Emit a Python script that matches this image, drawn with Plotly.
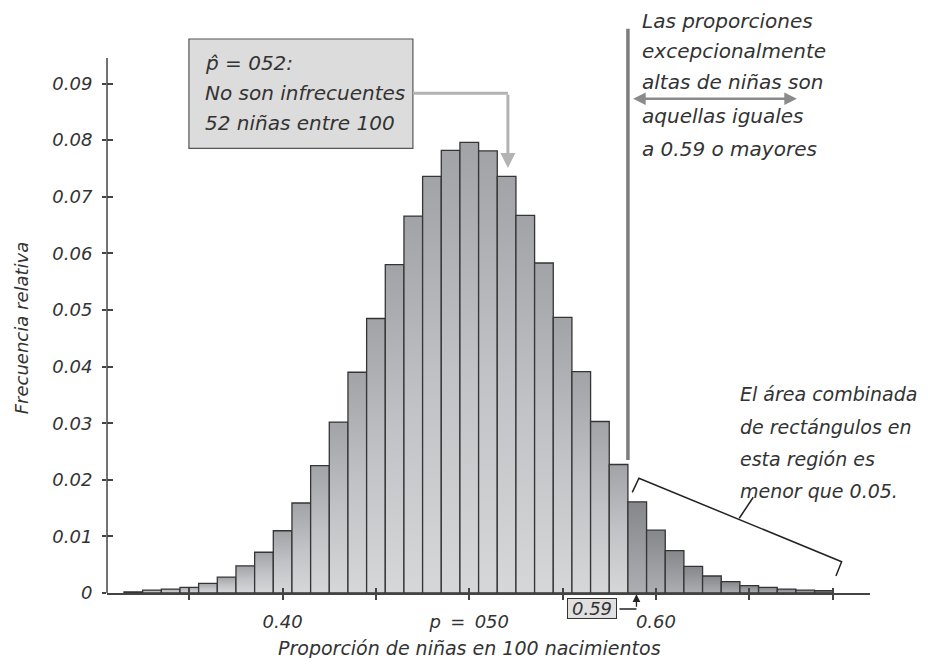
import plotly.graph_objects as go

# sample proportion of girls in 100 births (bar centres) and relative frequency
PROPORTIONS = [
    0.32, 0.33, 0.34, 0.35, 0.36, 0.37, 0.38, 0.39, 0.40, 0.41,
    0.42, 0.43, 0.44, 0.45, 0.46, 0.47, 0.48, 0.49, 0.50, 0.51,
    0.52, 0.53, 0.54, 0.55, 0.56, 0.57, 0.58, 0.59, 0.60, 0.61,
    0.62, 0.63, 0.64, 0.65, 0.66, 0.67, 0.68, 0.69,
]
FREQUENCIES = [
    0.0002, 0.0005, 0.0007, 0.0010, 0.0017, 0.0028, 0.0048, 0.0072, 0.0110, 0.0159,
    0.0225, 0.0302, 0.0390, 0.0485, 0.0580, 0.0666, 0.0736, 0.0782, 0.0796, 0.0781,
    0.0736, 0.0667, 0.0583, 0.0487, 0.0391, 0.0303, 0.0227, 0.0161, 0.0111, 0.0075,
    0.0047, 0.0030, 0.0020, 0.0013, 0.0010, 0.0007, 0.0005, 0.0004,
]
CUTOFF = 0.59
BIN_WIDTH = 0.01

X_TICKS = [0.35, 0.40, 0.45, 0.50, 0.55, 0.60, 0.65, 0.695]
X_TICK_TEXT = ["", "0.40", "", "p\u2009 = \u2009050", "", "0.60", "", ""]
Y_TICKS = [0, 0.01, 0.02, 0.03, 0.04, 0.05, 0.06, 0.07, 0.08, 0.09]
Y_TICK_TEXT = ["0", "0.01", "0.02", "0.03", "0.04", "0.05", "0.06", "0.07", "0.08", "0.09"]

X_RANGE = [0.3059, 0.7147]
Y_RANGE = [0, 0.103]

FONT = "'DejaVu Sans', 'Noto Sans', sans-serif"
INK = "#333333"
AXIS = "#444444"
LIGHT_SCALE = [[0, "#d6d7d9"], [0.5, "#c0c2c5"], [1, "#a1a3a7"]]
DARK_SCALE = [[0, "#acaeb1"], [1, "#85878b"]]


def text_font(size):
    return dict(family=FONT, size=size, color=INK, style="italic", weight=200)


def paper_y(value):
    # data y -> paper fraction, for marks that sit below the x axis
    return (value - Y_RANGE[0]) / (Y_RANGE[1] - Y_RANGE[0])


fig = go.Figure()

half = BIN_WIDTH / 2
for centre, freq in zip(PROPORTIONS, FREQUENCIES):
    scale = DARK_SCALE if centre >= CUTOFF - 1e-9 else LIGHT_SCALE
    fig.add_trace(
        go.Scatter(
            x=[centre - half, centre - half, centre + half, centre + half, centre - half],
            y=[0, freq, freq, 0, 0],
            mode="lines",
            fill="toself",
            fillgradient=dict(type="vertical", colorscale=scale, start=0, stop=freq),
            line=dict(color="#353535", width=1.3),
            hoverinfo="skip",
            showlegend=False,
        )
    )

# invisible trace so the overlay axes (inner half of the crossing ticks) get drawn
fig.add_trace(
    go.Scatter(
        x=PROPORTIONS, y=FREQUENCIES, xaxis="x2", yaxis="y2",
        mode="markers", marker=dict(opacity=0), hoverinfo="skip", showlegend=False,
    )
)

fig.update_layout(
    width=912,
    height=650,
    margin=dict(l=99, r=50, t=2, b=65),
    paper_bgcolor="white",
    plot_bgcolor="white",
    showlegend=False,
    xaxis=dict(
        range=X_RANGE, tickvals=X_TICKS, ticktext=X_TICK_TEXT,
        ticks="outside", ticklen=5, tickwidth=1.5, tickcolor=AXIS,
        showline=True, linecolor=AXIS, linewidth=1.5,
        showgrid=False, zeroline=False, tickfont=text_font(18), ticklabelstandoff=7,
    ),
    yaxis=dict(
        range=Y_RANGE, tickvals=Y_TICKS, ticktext=Y_TICK_TEXT,
        ticks="outside", ticklen=4, tickwidth=1.5, tickcolor=AXIS,
        showline=False, showgrid=False, zeroline=False,
        tickfont=text_font(18), ticklabelstandoff=6,
    ),
    xaxis2=dict(
        range=X_RANGE, overlaying="x", anchor="y2", tickvals=X_TICKS,
        ticks="inside", ticklen=5, tickwidth=1.5, tickcolor=AXIS,
        showticklabels=False, showline=False, showgrid=False, zeroline=False,
    ),
    yaxis2=dict(
        range=Y_RANGE, overlaying="y", anchor="x2", side="left", tickvals=Y_TICKS,
        ticks="inside", ticklen=6, tickwidth=1.5, tickcolor=AXIS,
        showticklabels=False, showline=False, showgrid=False, zeroline=False,
    ),
)

# y axis line (stops just above the 0.09 tick)
fig.add_shape(type="line", xref="paper", yref="y", x0=0, x1=0, y0=0, y1=0.0945,
              line=dict(color=AXIS, width=1.5))

# p-hat callout box
fig.add_shape(type="rect", x0=0.3498, x1=0.4698, y0=0.07857, y1=0.09788,
              fillcolor="#dcdcdc", line=dict(color="#555555", width=1.2))
fig.add_shape(type="line", x0=0.4698, x1=0.5207, y0=0.0883, y1=0.0883,
              line=dict(color="#b3b3b3", width=3))
for text, y in [("p̂ = 052:", 0.0937), ("No son infrecuentes", 0.0883),
                ("52 niñas entre 100", 0.0830)]:
    fig.add_annotation(x=0.3573, y=y, text=text, showarrow=False, xanchor="left",
                       yanchor="middle", font=text_font(20))
fig.add_annotation(x=0.5207, y=0.0751, ax=0.5207, ay=0.0883, axref="x", ayref="y",
                   text="", showarrow=True, arrowhead=2, arrowsize=1, arrowwidth=3,
                   arrowcolor="#b3b3b3", standoff=0, startstandoff=0)

# cut-off line and the "exceptionally high" note
fig.add_shape(type="line", x0=0.585, x1=0.585, y0=0.0235, y1=0.0997,
              line=dict(color="#7d7d7d", width=3.5))
fig.add_annotation(x=0.6755, y=0.0873, ax=0.5870, ay=0.0873, axref="x", ayref="y",
                   text="", showarrow=True, arrowhead=2, arrowside="end+start",
                   arrowsize=1, arrowwidth=2.5, arrowcolor="#8a8a8a",
                   standoff=0, startstandoff=0)
for text, y in [("Las proporciones", 0.1010), ("excepcionalmente", 0.0958),
                ("altas de niñas son", 0.0903), ("aquellas iguales", 0.0843),
                ("a 0.59 o mayores", 0.0785)]:
    fig.add_annotation(x=0.5915, y=y, text=text, showarrow=False, xanchor="left",
                       yanchor="middle", font=text_font(20))

# bracket over the upper tail
fig.add_shape(type="path",
              path="M 0.58732 0.01779 L 0.59091 0.02027 L 0.69950 0.00553 L 0.69645 0.00300",
              line=dict(color="#222222", width=1.5))
fig.add_shape(type="line", x0=0.64464, x1=0.65214, y0=0.0132, y1=0.01691,
              line=dict(color="#222222", width=1.5))
for text, y in [("El área combinada", 0.03516), ("de rectángulos en", 0.02933),
                ("esta región es", 0.02367), ("menor que 0.05.", 0.01802)]:
    fig.add_annotation(x=0.644, y=y, text=text, showarrow=False, xanchor="left",
                       yanchor="middle", font=text_font(19))

# boxed 0.59 marker under the axis
fig.add_annotation(x=0.566, yref="paper", y=paper_y(-0.00277), text="0.59", showarrow=False,
                   xanchor="center", yanchor="middle", font=text_font(18),
                   bgcolor="#e0e0e0", bordercolor="#333333", borderwidth=1, borderpad=1,
                   width=46, height=17)
fig.add_annotation(x=0.58957, yref="paper", y=paper_y(-0.00283), ax=-18.5, ay=0,
                   text="", showarrow=True, arrowhead=0, arrowwidth=1.3,
                   arrowcolor="#222222", standoff=0, startstandoff=0)
fig.add_annotation(x=0.58957, yref="paper", y=paper_y(-0.0002), ax=0, ay=14,
                   text="", showarrow=True, arrowhead=2, arrowsize=1.2, arrowwidth=1.3,
                   arrowcolor="#222222", standoff=0, startstandoff=0)

# axis titles
fig.add_annotation(x=0.5, yref="paper", y=paper_y(-0.0097), xanchor="center",
                   yanchor="middle", text="Proporción de niñas en 100 nacimientos",
                   showarrow=False, font=text_font(19))
fig.add_annotation(xref="paper", x=-0.1125, y=0.0468, xanchor="center", yanchor="middle",
                   text="Frecuencia relativa", textangle=-90, showarrow=False,
                   font=text_font(18))

fig.write_html("out.html")
